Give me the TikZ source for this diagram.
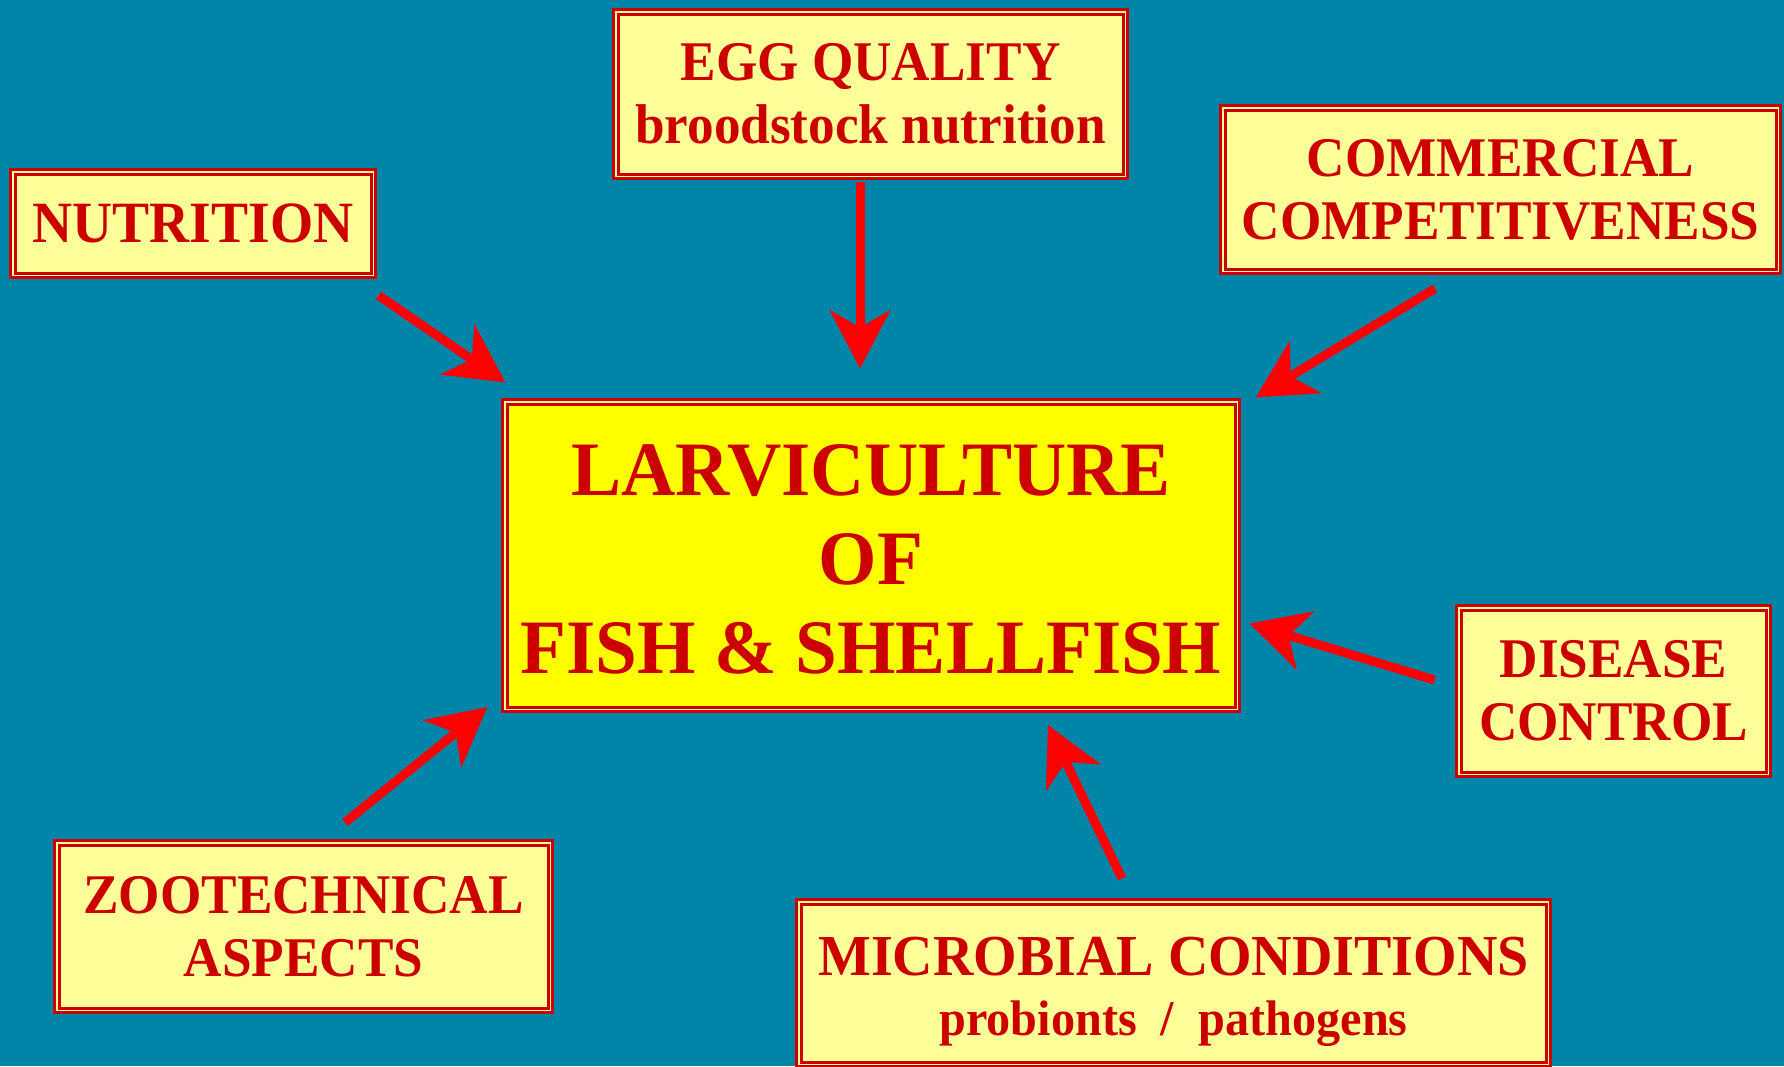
\documentclass[tikz,border=0pt]{standalone}
\usepackage{fontspec}
\setmainfont{Liberation Serif}
\newfontfamily\condfont[FakeStretch=0.95]{Liberation Serif}
\newfontfamily\micfont[FakeStretch=0.965]{Liberation Serif}
\newfontfamily\mainfontc[FakeStretch=0.975]{Liberation Serif}
\usetikzlibrary{arrows.meta}
\definecolor{bg}{HTML}{0084A8}
\definecolor{txtred}{HTML}{CC0000}
\definecolor{boxred}{HTML}{CC0000}
\definecolor{arrred}{HTML}{FF0000}
\definecolor{paleY}{HTML}{FFFF99}
\definecolor{mainY}{HTML}{FFFF00}
\tikzset{
  box/.style={draw=boxred, double=paleY, double distance=1.5pt, line width=3pt,
    fill=paleY, inner sep=0pt, align=center, text=txtred},
  fnt/.style={font=\condfont\bfseries\fontsize{56}{63}\selectfont},
  arr/.style={draw=arrred, line width=9pt, -{Stealth[length=58pt,width=60pt,inset=17pt]}}
}
\begin{document}
\begin{tikzpicture}[x=1pt,y=1pt]
\fill[bg] (0,0) rectangle (1784,-1066);
\useasboundingbox (0,0) rectangle (1784,-1066);

\node[box, minimum width=360.5pt, minimum height=103.5pt, font=\condfont\bfseries\fontsize{58.5}{64}\selectfont] (nut) at (193,-223.5) {NUTRITION};
\node[box, fnt, minimum width=509.5pt, minimum height=164.5pt] (egg) at (870.5,-94) {EGG QUALITY\\broodstock nutrition};
\node[box, fnt, minimum width=555.5pt, minimum height=163.5pt] (com) at (1500.5,-189.5) {COMMERCIAL\\COMPETITIVENESS};
\node[box, fill=mainY, minimum width=732.5pt, minimum height=307.5pt, font=\mainfontc\bfseries\fontsize{77}{89}\selectfont] (main) at (871,-555.5) {\rule{0pt}{58pt}LARVICULTURE\\OF\\FISH \& SHELLFISH};
\node[box, fnt, minimum width=309.5pt, minimum height=166.5pt] (dis) at (1613.5,-691) {DISEASE\\CONTROL};
\node[box, fnt, minimum width=493.5pt, minimum height=167.5pt] (zoo) at (303.5,-926.5) {ZOOTECHNICAL\\ASPECTS};
\node[box, minimum width=749.5pt, minimum height=162.5pt, font=\micfont\bfseries\fontsize{58}{60}\selectfont] (mic) at (1173.5,-983) {\rule{0pt}{56pt}MICROBIAL CONDITIONS\\{\fontsize{50}{60}\selectfont probionts~~/~~pathogens}};

\draw[arr] ([shift={(3.75,-18.75)}]nut.south east) -- ([shift={(2.25,17.75)}]main.north west);
\draw[arr] ([shift={(-10.5,-3.75)}]egg.south) -- ([shift={(-11,31.75)}]main.north);
\draw[arr] ([shift={(-65.5,-15.75)}]com.south) -- ([shift={(16.75,2.75)}]main.north east);
\draw[arr] ([shift={(-22.75,11)}]dis.west) -- ([shift={(10.75,-68)}]main.east);
\draw[arr] ([shift={(-51.5,21.75)}]mic.north) -- ([shift={(177,-14.25)}]main.south);
\draw[arr] ([shift={(41.5,18.75)}]zoo.north) -- ([shift={(-15.75,3.75)}]main.south west);
\end{tikzpicture}
\end{document}
